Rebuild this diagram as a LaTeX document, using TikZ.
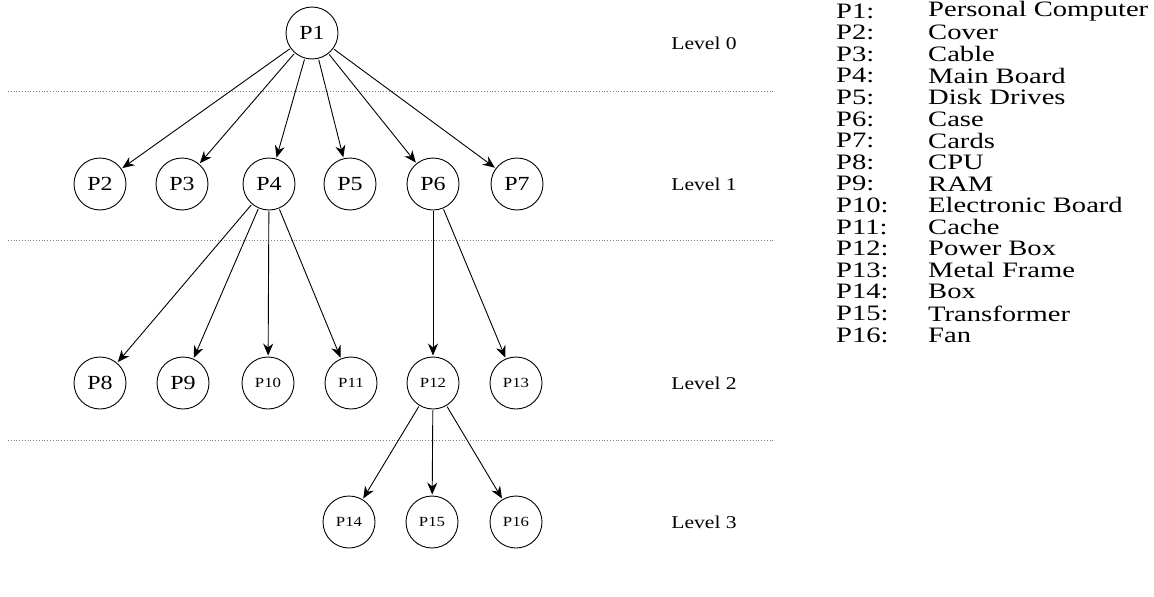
\documentclass[tikz,border=0pt]{standalone}
\usepackage{fontspec}
\setmainfont{Liberation Serif}
\newfontfamily\widefont{Liberation Serif}[FakeStretch=1.2]
\newfontfamily\legfont{Liberation Serif}[FakeStretch=1.3]
\usetikzlibrary{arrows.meta}
\begin{document}
\begin{tikzpicture}[x=1pt,y=-1pt,
  part/.style={circle,draw,line width=0.9pt,minimum size=52pt,inner sep=0pt,font=\widefont\fontsize{20}{22}\selectfont},
  partsm/.style={part,font=\widefont\fontsize{14}{16}\selectfont},
  link/.style={line width=0.9pt,-{Stealth[length=12pt,width=10pt]},shorten >=1pt,shorten <=1pt},
  sep/.style={gray,dotted,line width=0.8pt},
  lvl/.style={font=\widefont\fontsize{18}{20}\selectfont},
  leg/.style={anchor=west,inner sep=0pt,font=\legfont\fontsize{22}{23}\selectfont}]
\useasboundingbox (0,0) rectangle (1154,597);
% separators
\draw[sep] (8,91) -- (774,91);
\draw[sep] (8,240) -- (774,240);
\draw[sep] (8,440) -- (774,440);
% nodes
\node[part] (P1) at (312,33) {P1};
\node[part] (P2) at (100,184) {P2};
\node[part] (P3) at (182,184) {P3};
\node[part] (P4) at (269,184) {P4};
\node[part] (P5) at (350,184) {P5};
\node[part] (P6) at (433,184) {P6};
\node[part] (P7) at (517,184) {P7};
\node[part] (P8) at (100,383) {P8};
\node[part] (P9) at (183,383) {P9};
\node[partsm] (P10) at (268,383) {P10};
\node[partsm] (P11) at (351,383) {P11};
\node[partsm] (P12) at (433,383) {P12};
\node[partsm] (P13) at (516,383) {P13};
\node[partsm] (P14) at (349,522) {P14};
\node[partsm] (P15) at (432,522) {P15};
\node[partsm] (P16) at (516,522) {P16};
% edges
\foreach \t in {P2,P3,P4,P5,P6,P7} \draw[link] (P1) -- (\t);
\foreach \t in {P8,P9,P10,P11} \draw[link] (P4) -- (\t);
\foreach \t in {P12,P13} \draw[link] (P6) -- (\t);
\foreach \t in {P14,P15,P16} \draw[link] (P12) -- (\t);
% level labels
\node[lvl] (L0) at (704,43) {Level 0};
\node[lvl] (L1) at (704,184) {Level 1};
\node[lvl] (L2) at (704,383) {Level 2};
\node[lvl] (L3) at (704,522) {Level 3};
% legend
\foreach \k/\name [count=\i from 0] in {1/Personal Computer,2/Cover,3/Cable,4/Main Board,5/Disk Drives,6/Case,7/Cards,8/CPU,9/RAM,10/Electronic Board,11/Cache,12/Power Box,13/Metal Frame,14/Box,15/Transformer,16/Fan}{
  \node[leg] (K\k) at (836,{11+21.6*\i}) {P\k:};
  \node[leg] (N\k) at (928,{11+21.6*\i}) {\name};
}
\end{tikzpicture}
\end{document}
